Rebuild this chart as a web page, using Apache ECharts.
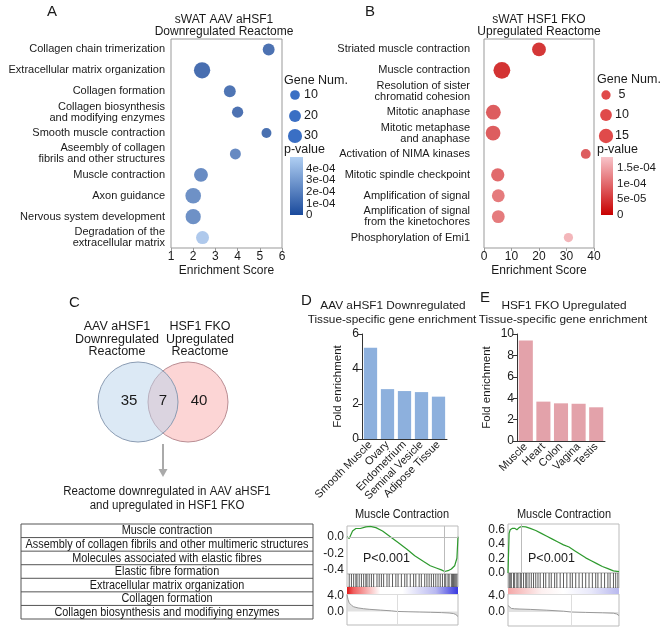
<!DOCTYPE html>
<html>
<head>
<meta charset="utf-8">
<script src="https://cdn.jsdelivr.net/npm/echarts@6/dist/echarts.min.js"></script>
<style>
html, body { margin: 0; padding: 0; background: #fff; }
#main { width: 660px; height: 632px; }
</style>
</head>
<body>
<div id="main"></div>
<script>
const FONT = '"Liberation Sans", Arial, sans-serif';

// A - sWAT AAV aHSF1 downregulated reactome
const termsA = ['Collagen chain trimerization', 'Extracellular matrix organization', 'Collagen formation',
  'Collagen biosynthesis\nand modifying enzymes', 'Smooth muscle contraction', 'Aseembly of collagen\nfibrils and other structures',
  'Muscle contraction', 'Axon guidance', 'Nervous system development', 'Degradation of the\nextracellular matrix'];
const scoreA = [5.4, 2.4, 3.65, 4.0, 5.3, 3.9, 2.35, 2.0, 2.0, 2.42];
const genesA = [20, 40, 20, 17, 11, 16, 29, 37, 35, 25];
const pvalA = [2e-5, 0, 3e-5, 2e-5, 1e-5, 1.3e-4, 1.4e-4, 1.6e-4, 1.6e-4, 4.3e-4];
const geneLegendA = [10, 20, 30];
const pTicksA = [0, 1e-4, 2e-4, 3e-4, 4e-4];
const pLabelsA = ['0', '1e-04', '2e-04', '3e-04', '4e-04'];

// B - sWAT HSF1 FKO upregulated reactome
const termsB = ['Striated muscle contraction', 'Muscle contraction', 'Resolution of sister\nchromatid cohesion',
  'Mitotic anaphase', 'Mitotic metaphase\nand anaphase', 'Activation of NIMA kinases', 'Mitotic spindle checkpoint',
  'Amplification of signal', 'Amplification of signal\nfrom the kinetochores', 'Phosphorylation of Emi1'];
const scoreB = [20, 6.5, null, 3.4, 3.3, 37, 5.0, 5.2, 5.2, 30.7];
const genesB = [14, 20, null, 16, 16, 6, 13, 12, 12, 5];
const pvalB = [5e-6, 0, null, 5e-5, 5e-5, 5e-5, 6.5e-5, 8.5e-5, 8.5e-5, 1.55e-4];
const geneLegendB = [5, 10, 15];
const pTicksB = [0, 5e-5, 1e-4, 1.5e-4];
const pLabelsB = ['0', '5e-05', '1e-04', '1.5e-04'];

// C - venn + overlap table
const vennCounts = [35, 7, 40];
const overlapTerms = ['Muscle contraction', 'Assembly of collagen fibrils and other multimeric structures',
  'Molecules associated with elastic fibres', 'Elastic fibre formation', 'Extracellular matrix organization',
  'Collagen formation', 'Collagen biosynthesis and modifiying enzymes'];

// D / E - tissue-specific enrichment
const tissuesD = ['Smooth Muscle', 'Ovary', 'Endometrium', 'Seminal Vesicle', 'Adipose Tissue'];
const foldD = [5.22, 2.85, 2.74, 2.68, 2.42];
const tissuesE = ['Muscle', 'Heart', 'Colon', 'Vagina', 'Testis'];
const foldE = [9.4, 3.68, 3.52, 3.48, 3.15];

// GSEA - muscle contraction (AAV aHSF1, left)
const esPos1 = [0, 2, 3, 5, 8, 12, 17, 21, 26, 32, 39, 46, 54, 61, 69, 75, 81, 85, 88, 91, 94, 97, 99, 100];
const esVal1 = [0, -0.02, -0.04, 0.07, 0.1, 0.1, 0.12, 0.125, 0.11, 0.07, 0.0, -0.07, -0.15, -0.23, -0.3, -0.35, -0.38, -0.4, -0.42, -0.41, -0.39, -0.35, -0.26, 0.0];
const hits1 = [2, 4, 6, 8, 9, 11, 13, 15, 17, 18, 20, 22, 24, 27, 29, 31, 33, 36, 38, 41, 44, 46, 49, 52, 54, 57, 60, 62, 65, 67, 70, 72, 74, 76, 78, 80, 82, 84, 86, 88, 89, 91, 92, 94, 95, 96, 97, 98, 99];
const rankPos1 = [0, 1, 2, 4, 6, 10, 15, 20, 30, 40, 45, 55, 65, 75, 85, 92, 96, 98, 100];
const rankVal1 = [4.3, 3.0, 2.2, 1.6, 1.2, 0.9, 0.7, 0.55, 0.35, 0.15, 0, -0.08, -0.15, -0.22, -0.3, -0.4, -0.55, -0.8, -1.3];

// GSEA - muscle contraction (HSF1 FKO, right)
const esPos2 = [0, 1, 2, 4, 6, 8, 10, 12, 16, 20, 25, 30, 35, 40, 45, 50, 55, 60, 65, 70, 75, 80, 85, 90, 95, 100];
const esVal2 = [0, 0.55, 0.6, 0.62, 0.62, 0.6, 0.63, 0.645, 0.64, 0.62, 0.59, 0.55, 0.51, 0.47, 0.43, 0.39, 0.36, 0.31, 0.26, 0.21, 0.17, 0.13, 0.09, 0.06, 0.03, 0.02];
const hits2 = [1, 2, 3, 5, 6, 8, 9, 11, 12, 14, 16, 17, 19, 21, 23, 25, 27, 29, 32, 34, 37, 39, 42, 44, 47, 50, 53, 56, 58, 61, 64, 67, 70, 73, 76, 79, 81, 84, 87, 90, 92, 95, 97, 99];
const rankPos2 = [0, 1, 3, 6, 10, 20, 35, 50, 57, 70, 85, 95, 98, 100];
const rankVal2 = [1.6, 1.1, 0.9, 0.8, 0.75, 0.65, 0.45, 0.2, 0, -0.1, -0.2, -0.3, -0.5, -0.9];

const sizeA = n => 7.5 + 0.22 * n;
const sizeB = n => 6.8 + 0.5 * n;
const blueDark = '#1a4a9c', blueLight = '#b0cff3';
const redDark = '#c80000', redLight = '#f8c4ca';

const dataA = scoreA.map((s, i) => [s, i, pvalA[i], genesA[i]]);
const dataB = scoreB.map((s, i) => s == null ? null : [s, i, pvalB[i], genesB[i]]).filter(Boolean);

function txt(x, y, text, size, align, extra) {
  return Object.assign({
    type: 'text', x: x, y: y, silent: true,
    style: { text: text, fontSize: size, fontFamily: FONT, fill: '#1a1a1a',
      align: align || 'left', textAlign: align || 'left', verticalAlign: 'middle', textVerticalAlign: 'middle' }
  }, extra || {});
}
function vgrad(top, bottom) {
  return new echarts.graphic.LinearGradient(0, 0, 0, 1, [{ offset: 0, color: top }, { offset: 1, color: bottom }]);
}

const chart = echarts.init(document.getElementById('main'));

const lbl = { fontSize: 11, color: '#1a1a1a', fontFamily: FONT };
const hidden = { show: false };

const graphic = [
  txt(47, 12, 'A', 15), txt(365, 12, 'B', 15), txt(69, 303, 'C', 15), txt(301, 301, 'D', 15), txt(480, 298, 'E', 15),
  txt(224, 20, 'sWAT AAV aHSF1', 12, 'center'), txt(224, 32, 'Downregulated Reactome', 12, 'center'),
  txt(539, 20, 'sWAT HSF1 FKO', 12, 'center'), txt(539, 32, 'Upregulated Reactome', 12, 'center'),
  txt(284, 81, 'Gene Num.', 12.5), txt(284, 150, 'p-value', 12.5),
  txt(597, 80, 'Gene Num.', 12.5), txt(597, 150, 'p-value', 12.5),
  txt(393, 306, 'AAV aHSF1 Downregulated', 11.8, 'center'), txt(392, 320, 'Tissue-specific gene enrichment', 11.8, 'center'),
  txt(564, 306, 'HSF1 FKO Upregulated', 11.8, 'center'), txt(563, 320, 'Tissue-specific gene enrichment', 11.8, 'center'),
  // venn
  { type: 'circle', silent: true, shape: { cx: 188, cy: 402, r: 40 }, style: { fill: '#fcd5d5', stroke: '#b98c92', lineWidth: 1 } },
  { type: 'circle', silent: true, shape: { cx: 138, cy: 402, r: 40 }, style: { fill: 'rgba(185,211,235,0.5)', stroke: '#8a9bb2', lineWidth: 1 } },
  txt(129, 401, String(vennCounts[0]), 15, 'center'), txt(163, 401, String(vennCounts[1]), 15, 'center'), txt(199, 401, String(vennCounts[2]), 15, 'center'),
  txt(117, 327, 'AAV aHSF1', 12.5, 'center'), txt(117, 340, 'Downregulated', 12.5, 'center'), txt(117, 352, 'Reactome', 12.5, 'center'),
  txt(200, 327, 'HSF1 FKO', 12.5, 'center'), txt(200, 340, 'Upregulated', 12.5, 'center'), txt(200, 352, 'Reactome', 12.5, 'center'),
  { type: 'line', silent: true, shape: { x1: 163, y1: 444, x2: 163, y2: 470 }, style: { stroke: '#aaa', lineWidth: 2 } },
  { type: 'polygon', silent: true, shape: { points: [[158.5, 469], [167.5, 469], [163, 477]] }, style: { fill: '#aaa' } },
  txt(167, 492, 'Reactome downregulated in AAV aHSF1', 12.5, 'center', { scaleX: 0.92 }),
  txt(167, 506, 'and upregulated in HSF1 FKO', 12.5, 'center', { scaleX: 0.92 }),
  { type: 'rect', silent: true, shape: { x: 21, y: 524, width: 292, height: 95 }, style: { fill: 'none', stroke: '#555', lineWidth: 1 } },
  // gsea titles / p-values / rank colour bars
  txt(402, 515, 'Muscle Contraction', 12.5, 'center', { scaleX: 0.88 }),
  txt(564, 515, 'Muscle Contraction', 12.5, 'center', { scaleX: 0.88 }),
  txt(363, 559, 'P<0.001', 12.5), txt(528, 559, 'P<0.001', 12.5),
  { type: 'rect', silent: true, shape: { x: 347, y: 587, width: 111, height: 7 },
    style: { fill: new echarts.graphic.LinearGradient(0, 0, 1, 0, [{ offset: 0, color: '#e01818' }, { offset: 0.06, color: '#f06060' }, { offset: 0.3, color: '#fff' }, { offset: 0.5, color: '#fff' }, { offset: 0.8, color: '#b8b8f0' }, { offset: 1, color: '#3838e0' }]) } },
  { type: 'rect', silent: true, shape: { x: 508, y: 588, width: 111, height: 6 },
    style: { fill: new echarts.graphic.LinearGradient(0, 0, 1, 0, [{ offset: 0, color: '#f4a8a8' }, { offset: 0.3, color: '#fdf0f0' }, { offset: 0.5, color: '#fff' }, { offset: 0.75, color: '#e8e8fa' }, { offset: 1, color: '#b8b8ee' }]) } }
];
overlapTerms.forEach((t, i) => {
  const h = 95 / overlapTerms.length;
  if (i > 0) graphic.push({ type: 'line', silent: true, shape: { x1: 21, y1: 524 + i * h, x2: 313, y2: 524 + i * h }, style: { stroke: '#555', lineWidth: 1 } });
  graphic.push(txt(167, 524 + (i + 0.5) * h, t, 13, 'center', { scaleX: 0.835 }));
});
geneLegendA.forEach((n, i) => {
  const cy = [95, 116, 136][i];
  graphic.push({ type: 'circle', silent: true, shape: { cx: 295, cy: cy, r: sizeA(n) / 2 }, style: { fill: '#3a6fc4' } });
  graphic.push(txt(304, cy, String(n), 12.5));
});
geneLegendB.forEach((n, i) => {
  const cy = [95, 115, 136][i];
  graphic.push({ type: 'circle', silent: true, shape: { cx: 606, cy: cy, r: sizeB(n) / 2 }, style: { fill: '#e04a4a' } });
  graphic.push(txt(615, cy, (n < 10 ? ' ' : '') + n, 12.5));
});

const gseaY = (min, max, ticks) => ({
  min: min, max: max, axisLine: hidden, axisTick: hidden, splitLine: hidden,
  axisLabel: { fontSize: 12, color: '#1a1a1a', margin: 3, customValues: ticks, formatter: v => v.toFixed(1) }
});
const box = { show: true, borderColor: '#bbb', borderWidth: 1, backgroundColor: '#fff' };
const vline = (x, color) => ({ silent: true, symbol: ['none', 'none'], label: hidden, lineStyle: { color: color, type: 'solid', width: 1 }, data: [{ xAxis: x }] });

chart.setOption({
  animation: false,
  textStyle: { fontFamily: FONT },
  grid: [
    { left: 171, top: 39, width: 111, height: 209, show: true, borderColor: '#999' },
    { left: 290, top: 157, width: 13, height: 58 },
    { left: 484, top: 39, width: 110, height: 209, show: true, borderColor: '#999' },
    { left: 601, top: 157, width: 12, height: 58 },
    { left: 362, top: 334, width: 85, height: 105 },
    { left: 517, top: 334, width: 88, height: 107 },
    Object.assign({ left: 347, top: 526, width: 111, height: 48 }, box),
    Object.assign({ left: 347, top: 574, width: 111, height: 13 }, box),
    Object.assign({ left: 347, top: 594, width: 111, height: 31 }, box),
    Object.assign({ left: 508, top: 524, width: 111, height: 49 }, box),
    Object.assign({ left: 508, top: 573, width: 111, height: 15 }, box),
    Object.assign({ left: 508, top: 594, width: 111, height: 32 }, box)
  ],
  visualMap: [
    { type: 'continuous', show: false, seriesIndex: 0, dimension: 2, min: 0, max: 5e-4, inRange: { color: [blueDark, blueLight] } },
    { type: 'continuous', show: false, seriesIndex: 2, dimension: 2, min: 0, max: 1.85e-4, inRange: { color: [redDark, redLight] } }
  ],
  xAxis: [
    { gridIndex: 0, type: 'value', min: 1, max: 6, interval: 1, splitLine: hidden,
      axisLine: { lineStyle: { color: '#999' } }, axisTick: { show: true, length: 3, lineStyle: { color: '#999' } },
      axisLabel: Object.assign({}, lbl, { fontSize: 12, margin: 3 }),
      name: 'Enrichment Score', nameLocation: 'middle', nameGap: 17, nameTextStyle: { fontSize: 12, color: '#1a1a1a' } },
    { gridIndex: 1, type: 'category', data: ['p'], show: false },
    { gridIndex: 2, type: 'value', min: 0, max: 40, interval: 10, splitLine: hidden,
      axisLine: { lineStyle: { color: '#999' } }, axisTick: { show: true, length: 3, lineStyle: { color: '#999' } },
      axisLabel: Object.assign({}, lbl, { fontSize: 12, margin: 3 }),
      name: 'Enrichment Score', nameLocation: 'middle', nameGap: 17, nameTextStyle: { fontSize: 12, color: '#1a1a1a' } },
    { gridIndex: 3, type: 'category', data: ['p'], show: false },
    { gridIndex: 4, type: 'category', data: tissuesD, axisLine: { lineStyle: { color: '#333' } },
      axisTick: { alignWithLabel: true, length: 3, lineStyle: { color: '#333' } },
      axisLabel: Object.assign({}, lbl, { rotate: 45, interval: 0, margin: 4 }) },
    { gridIndex: 5, type: 'category', data: tissuesE, axisLine: { lineStyle: { color: '#333' } },
      axisTick: { alignWithLabel: true, length: 3, lineStyle: { color: '#333' } },
      axisLabel: Object.assign({}, lbl, { rotate: 45, interval: 0, margin: 4 }) },
    { gridIndex: 6, type: 'value', min: 0, max: 100, show: false },
    { gridIndex: 7, type: 'value', min: 0, max: 100, show: false },
    { gridIndex: 8, type: 'value', min: 0, max: 100, show: false },
    { gridIndex: 9, type: 'value', min: 0, max: 100, show: false },
    { gridIndex: 10, type: 'value', min: 0, max: 100, show: false },
    { gridIndex: 11, type: 'value', min: 0, max: 100, show: false }
  ],
  yAxis: [
    { gridIndex: 0, type: 'category', data: termsA, inverse: true, axisLine: hidden, axisTick: hidden,
      axisLabel: Object.assign({}, lbl, { margin: 6, lineHeight: 11, interval: 0 }) },
    { gridIndex: 1, type: 'value', min: 0, max: 5e-4, show: false },
    { gridIndex: 2, type: 'category', data: termsB, inverse: true, axisLine: hidden, axisTick: hidden,
      axisLabel: Object.assign({}, lbl, { margin: 14, lineHeight: 11, interval: 0 }) },
    { gridIndex: 3, type: 'value', min: 0, max: 1.85e-4, show: false },
    { gridIndex: 4, type: 'value', min: 0, max: 6, interval: 2, splitLine: hidden,
      axisLine: { show: true, lineStyle: { color: '#333' } }, axisTick: { show: true, length: 4, lineStyle: { color: '#333' } },
      axisLabel: Object.assign({}, lbl, { fontSize: 12, margin: 3 }),
      name: 'Fold enrichment', nameLocation: 'middle', nameGap: 18, nameTextStyle: { fontSize: 11.5, color: '#1a1a1a' } },
    { gridIndex: 5, type: 'value', min: 0, max: 10, interval: 2, splitLine: hidden,
      axisLine: { show: true, lineStyle: { color: '#333' } }, axisTick: { show: true, length: 4, lineStyle: { color: '#333' } },
      axisLabel: Object.assign({}, lbl, { fontSize: 12, margin: 3 }),
      name: 'Fold enrichment', nameLocation: 'middle', nameGap: 24, nameTextStyle: { fontSize: 11.5, color: '#1a1a1a' } },
    Object.assign({ gridIndex: 6 }, gseaY(-0.45, 0.13, [-0.4, -0.2, 0])),
    { gridIndex: 7, type: 'value', min: 0, max: 1, show: false },
    Object.assign({ gridIndex: 8 }, gseaY(-3.5, 4.5, [0, 4])),
    Object.assign({ gridIndex: 9 }, gseaY(0, 0.68, [0, 0.2, 0.4, 0.6])),
    { gridIndex: 10, type: 'value', min: 0, max: 1, show: false },
    Object.assign({ gridIndex: 11 }, gseaY(-3.5, 4.5, [0, 4]))
  ],
  series: [
    { type: 'scatter', xAxisIndex: 0, yAxisIndex: 0, data: dataA, symbolSize: d => sizeA(d[3]) },
    { type: 'bar', xAxisIndex: 1, yAxisIndex: 1, data: [5e-4], barWidth: '100%', silent: true,
      itemStyle: { color: vgrad(blueLight, blueDark) } },
    { type: 'scatter', xAxisIndex: 2, yAxisIndex: 2, data: dataB, symbolSize: d => sizeB(d[3]) },
    { type: 'bar', xAxisIndex: 3, yAxisIndex: 3, data: [1.85e-4], barWidth: '100%', silent: true,
      itemStyle: { color: vgrad(redLight, redDark) } },
    { type: 'bar', xAxisIndex: 4, yAxisIndex: 4, data: foldD, barCategoryGap: '22%', itemStyle: { color: '#8db0dd' } },
    { type: 'bar', xAxisIndex: 5, yAxisIndex: 5, data: foldE, barCategoryGap: '20%', itemStyle: { color: '#e3a2aa' } },
    { type: 'line', xAxisIndex: 6, yAxisIndex: 6, data: esPos1.map((p, i) => [p, esVal1[i]]), showSymbol: false,
      lineStyle: { color: '#2e9a2e', width: 1.2 },
      markLine: { silent: true, symbol: ['none', 'none'], label: hidden, lineStyle: { color: '#bbb', type: 'solid', width: 1 },
        data: [{ yAxis: 0 }, { xAxis: 87.5 }] } },
    { type: 'scatter', xAxisIndex: 7, yAxisIndex: 7, data: hits1.map(h => [h, 0.5]), symbol: 'rect', symbolSize: [1, 13],
      itemStyle: { color: '#333' } },
    { type: 'line', xAxisIndex: 8, yAxisIndex: 8, data: rankPos1.map((p, i) => [p, rankVal1[i]]), showSymbol: false,
      lineStyle: { color: '#999', width: 1 }, areaStyle: { color: '#d4d4d4' }, markLine: vline(45, '#ddd') },
    { type: 'line', xAxisIndex: 9, yAxisIndex: 9, data: esPos2.map((p, i) => [p, esVal2[i]]), showSymbol: false,
      lineStyle: { color: '#2e9a2e', width: 1.2 }, markLine: vline(12, '#bbb') },
    { type: 'scatter', xAxisIndex: 10, yAxisIndex: 10, data: hits2.map(h => [h, 0.5]), symbol: 'rect', symbolSize: [1, 15],
      itemStyle: { color: '#333' } },
    { type: 'line', xAxisIndex: 11, yAxisIndex: 11, data: rankPos2.map((p, i) => [p, rankVal2[i]]), showSymbol: false,
      lineStyle: { color: '#999', width: 1 }, areaStyle: { color: '#d4d4d4' }, markLine: vline(57, '#ddd') }
  ],
  graphic: graphic
});

// colour-bar tick labels, placed with the colour-bar axes' own scale
pTicksA.forEach((v, i) => {
  const y = chart.convertToPixel({ yAxisIndex: 1 }, v);
  graphic.push(txt(306, y, pLabelsA[i], 11.5));
});
pTicksB.forEach((v, i) => {
  const y = chart.convertToPixel({ yAxisIndex: 3 }, v);
  graphic.push(txt(617, y, pLabelsB[i], 11.5));
});
chart.setOption({ graphic: graphic });
</script>
</body>
</html>
